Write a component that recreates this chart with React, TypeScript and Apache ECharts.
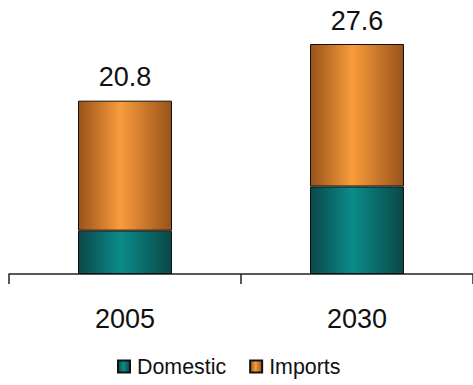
import React, { useEffect, useRef } from "react";
import * as echarts from "echarts";

const categories = ["2005", "2030"];
const domestic = [5.2, 10.5];
const imports = [15.6, 17.1];
const totals = domestic.map((d, i) => +(d + imports[i]).toFixed(1));

const grad = (edge: string, mid: string) =>
  new echarts.graphic.LinearGradient(0, 0, 1, 0, [
    { offset: 0, color: edge },
    { offset: 0.45, color: mid },
    { offset: 1, color: edge },
  ]);

export default function App() {
  const ref = useRef<HTMLDivElement>(null);
  useEffect(() => {
    if (!ref.current) return;
    const chart = echarts.init(ref.current, null, { renderer: "svg" });
    chart.setOption({
      animation: false,
      textStyle: { fontFamily: "Liberation Sans, Arial, sans-serif" },
      grid: { left: 9, width: 468, top: 24, bottom: 111, containLabel: false },
      legend: {
        left: 117,
        top: 356,
        padding: 0,
        itemWidth: 12,
        itemHeight: 12,
        itemGap: 23,
        icon: "rect",
        textStyle: { fontSize: 21.4, color: "#111", padding: [0, 0, 0, 2] },
        data: ["Domestic", "Imports"],
      },
      xAxis: {
        type: "category",
        data: categories,
        axisLine: { lineStyle: { color: "#222", width: 1.5 } },
        axisTick: { show: true, length: 10, lineStyle: { color: "#222", width: 1.5 } },
        axisLabel: { fontSize: 27, color: "#111", margin: 31 },
      },
      yAxis: {
        type: "value",
        min: 0,
        max: 30,
        show: false,
        splitLine: { show: false },
      },
      series: [
        {
          name: "Domestic",
          type: "bar",
          stack: "total",
          barWidth: 94,
          data: domestic,
          itemStyle: {
            color: grad("#0b4748", "#0a8c89"),
            borderColor: "#111",
            borderWidth: 1,
          },
        },
        {
          name: "Imports",
          type: "bar",
          stack: "total",
          barWidth: 94,
          data: imports,
          itemStyle: {
            color: grad("#98521a", "#f99c3b"),
            borderColor: "#111",
            borderWidth: 1,
          },
          label: {
            show: true,
            position: "top",
            distance: 10,
            fontSize: 27,
            color: "#111",
            formatter: (p: any) => totals[p.dataIndex].toFixed(1),
          },
        },
      ],
    });
    return () => chart.dispose();
  }, []);
  return (
    <div
      ref={ref}
      style={{ position: "absolute", left: 0, top: 0, width: 473, height: 385 }}
    />
  );
}
